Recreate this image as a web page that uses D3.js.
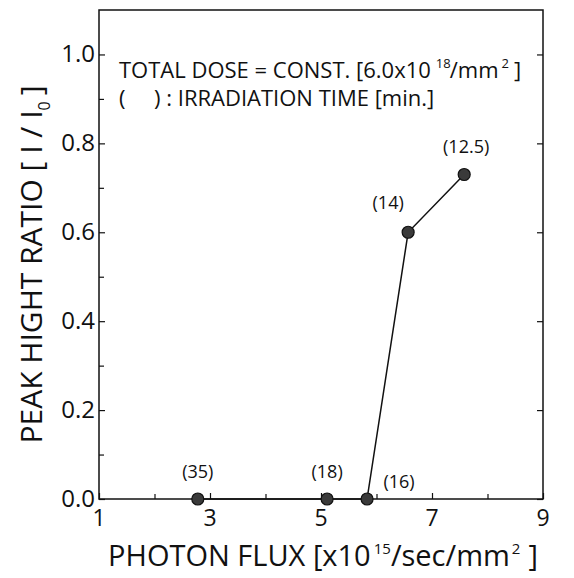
<!DOCTYPE html>
<html>
<head>
<meta charset="utf-8">
<script src="https://cdn.jsdelivr.net/npm/d3@7"></script>
<style>
  body { margin: 0; background: #fff; }
  text { font-family: "Open Sans", "Liberation Sans", sans-serif; fill: #111; }
</style>
</head>
<body>
<svg id="chart" width="574" height="578"></svg>
<script>
(function()
{
    "use strict";

    // data
    var flux   = [2.78, 5.11, 5.83, 6.57, 7.58];
    var ratio  = [0.0, 0.0, 0.0, 0.6, 0.73];
    var labels = ["(35)", "(18)", "(16)", "(14)", "(12.5)"];
    var xTicks = [1, 3, 5, 7, 9];
    var xMinor = [2, 4, 6, 8];
    var yTicks = [0, 0.2, 0.4, 0.6, 0.8, 1.0];
    var yMinor = [0.1, 0.3, 0.5, 0.7, 0.9];

    var left = 99, right = 543, top = 10, bottom = 499;

    var svg = d3.select("#chart");

    var x = d3.scaleLinear().domain([1, 9]).range([left, right]);
    var y = d3.scaleLinear().domain([0, 1.1]).range([bottom, top]);

    // frame
    svg.append("rect")
       .attr("x", left).attr("y", top)
       .attr("width", right - left).attr("height", bottom - top)
       .attr("fill", "none").attr("stroke", "#111").attr("stroke-width", 1.5);

    // ticks (pointing inward)
    svg.append("g").attr("transform", `translate(0,${bottom})`)
       .call(d3.axisTop(x).tickValues(xTicks).tickSize(6).tickFormat(""))
       .call(g => g.select(".domain").remove());
    svg.append("g").attr("transform", `translate(0,${bottom})`)
       .call(d3.axisTop(x).tickValues(xMinor).tickSize(5).tickFormat(""))
       .call(g => g.select(".domain").remove());

    svg.append("g").attr("transform", `translate(${left},0)`)
       .call(d3.axisRight(y).tickValues(yTicks).tickSize(6).tickFormat(""))
       .call(g => g.select(".domain").remove());
    svg.append("g").attr("transform", `translate(${left},0)`)
       .call(d3.axisRight(y).tickValues(yMinor).tickSize(5).tickFormat(""))
       .call(g => g.select(".domain").remove());
    svg.append("g").attr("transform", `translate(${right},0)`)
       .call(d3.axisLeft(y).tickValues(yTicks).tickSize(6).tickFormat(""))
       .call(g => g.select(".domain").remove());

    svg.selectAll(".tick line").attr("stroke", "#111").attr("stroke-width", 1.2);

    // tick labels
    svg.selectAll(".xlab").data(xTicks).enter().append("text")
       .attr("x", d => x(d)).attr("y", bottom + 27)
       .attr("text-anchor", "middle").attr("font-size", 23)
       .text(d => d);

    svg.selectAll(".ylab").data(yTicks).enter().append("text")
       .attr("x", left - 4).attr("y", d => y(d) + 8)
       .attr("text-anchor", "end").attr("font-size", 24)
       .text(d => d.toFixed(1));

    // series
    var pts = flux.map((f, i) => ({ x: f, y: ratio[i], label: labels[i] }));

    svg.append("path")
       .datum(pts)
       .attr("fill", "none").attr("stroke", "#111").attr("stroke-width", 1.5)
       .attr("d", d3.line().x(d => x(d.x)).y(d => y(d.y)));

    svg.selectAll(".pt").data(pts).enter().append("circle")
       .attr("cx", d => x(d.x)).attr("cy", d => y(d.y)).attr("r", 6)
       .attr("fill", "#3a3a3a").attr("stroke", "#111").attr("stroke-width", 1.2);

    var lblOff = { "(35)": [0, -21], "(18)": [0, -21], "(16)": [32, -11], "(14)": [-20, -23], "(12.5)": [2, -21] };
    svg.selectAll(".pl").data(pts).enter().append("text")
       .attr("x", d => x(d.x) + lblOff[d.label][0])
       .attr("y", d => y(d.y) + lblOff[d.label][1])
       .attr("text-anchor", "middle").attr("font-size", 18)
       .text(d => d.label);

    // legend text
    var l1 = svg.append("text").attr("x", 119).attr("y", 78).attr("font-size", 22);
    l1.append("tspan").text("TOTAL DOSE = CONST. [6.0x10");
    l1.append("tspan").attr("dx", 5).attr("dy", -10).attr("font-size", 13).text("18");
    l1.append("tspan").attr("dy", 10).attr("dx", -1).text("/mm");
    l1.append("tspan").attr("dx", 3).attr("dy", -10).attr("font-size", 13).text("2");
    l1.append("tspan").attr("dx", 5).attr("dy", 10).text("]");

    svg.append("text").attr("x", 119).attr("y", 106).attr("font-size", 22)
       .attr("xml:space", "preserve")
       .text("(     ) : IRRADIATION TIME [min.]");

    // axis titles
    var yt = svg.append("text")
       .attr("transform", `translate(42,${(top + bottom) / 2 + 10}) rotate(-90)`)
       .attr("text-anchor", "middle").attr("font-size", 30);
    yt.append("tspan").text("PEAK HIGHT RATIO [ I / I");
    yt.append("tspan").attr("dy", 8).attr("font-size", 16).text("0");
    yt.append("tspan").attr("dy", -8).attr("dx", 6).text("]");

    var xt = svg.append("text")
       .attr("x", (left + right) / 2 + 2).attr("y", 566)
       .attr("text-anchor", "middle").attr("font-size", 29);
    xt.append("tspan").text("PHOTON FLUX [x10");
    xt.append("tspan").attr("dx", 3).attr("dy", -12).attr("font-size", 15).text("15");
    xt.append("tspan").attr("dy", 12).text("/sec/mm");
    xt.append("tspan").attr("dx", 2).attr("dy", -12).attr("font-size", 15).text("2");
    xt.append("tspan").attr("dx", 8).attr("dy", 12).text("]");
})();
</script>
</body>
</html>
